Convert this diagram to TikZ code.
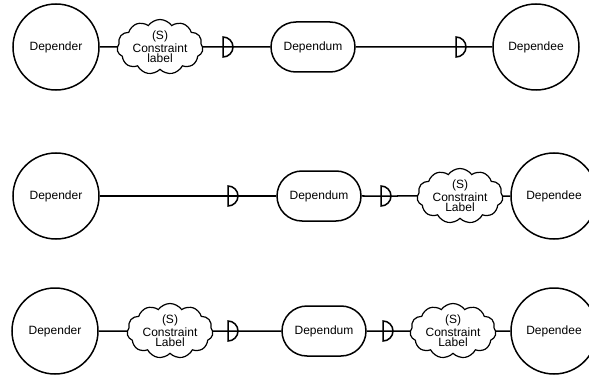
\documentclass[tikz,border=0pt]{standalone}
\usepackage{fontspec}
\setmainfont{Liberation Sans}
\usetikzlibrary{shapes.geometric,shapes.misc,shapes.symbols}
\tikzset{
  actor/.style={draw, circle, line width=1.5pt, minimum size=86pt, inner sep=0pt,
    font=\fontsize{12}{13}\selectfont},
  dependum/.style={draw, rounded rectangle, line width=1.5pt, minimum width=84pt,
    minimum height=50pt, inner sep=0pt, font=\fontsize{12}{13}\selectfont},
  constraint/.style={draw, cloud, cloud puffs=11, cloud puff arc=110, aspect=1.7,
    line width=1.2pt, minimum width=86pt, minimum height=52pt, inner sep=0pt,
    align=center, font=\fontsize{12}{10.5}\selectfont},
  dmark/.style={draw, semicircle, shape border rotate=270, line width=1.5pt,
    minimum width=20pt, minimum height=10pt, inner sep=0pt},
  link/.style={line width=1.5pt}
}
\begin{document}
\begin{tikzpicture}[x=1pt,y=-1pt]
\useasboundingbox (0,0) rectangle (589,377);
% first row
\node[actor] (dr1) at (56,47) {Depender};
\node[constraint] (c1) at (160,47) {(S)\\Constraint\\label};
\node[dmark] (d1a) at (227,47) {};
\node[dependum] (dm1) at (313,47) {Dependum};
\node[dmark] (d1b) at (460,47) {};
\node[actor] (de1) at (536,47) {Dependee};
\draw[link] (dr1) -- (c1);
\draw[link] (c1) -- (d1a.center) -- (dm1);
\draw[link] (dm1) -- (d1b.center) -- (de1);
% second row
\node[actor] (dr2) at (56,196) {Depender};
\node[dmark] (d2a) at (232,196) {};
\node[dependum] (dm2) at (319,196) {Dependum};
\node[dmark] (d2b) at (385,196) {};
\node[constraint] (c2) at (460,196) {(S)\\Constraint\\Label};
\node[actor] (de2) at (554,196) {Dependee};
\draw[link] (dr2) -- (d2a.center) -- (dm2);
\draw[link] (dm2) -- (d2b.center) -- (c2);
\draw[link] (c2) -- (de2);
% third row
\node[actor] (dr3) at (55,331) {Depender};
\node[constraint] (c3a) at (170,331) {(S)\\Constraint\\Label};
\node[dmark] (d3a) at (232,331) {};
\node[dependum] (dm3) at (324,331) {Dependum};
\node[dmark] (d3b) at (387,331) {};
\node[constraint] (c3b) at (453,331) {(S)\\Constraint\\Label};
\node[actor] (de3) at (554,331) {Dependee};
\draw[link] (dr3) -- (c3a);
\draw[link] (c3a) -- (d3a.center) -- (dm3);
\draw[link] (dm3) -- (d3b.center) -- (c3b);
\draw[link] (c3b) -- (de3);
\end{tikzpicture}
\end{document}
